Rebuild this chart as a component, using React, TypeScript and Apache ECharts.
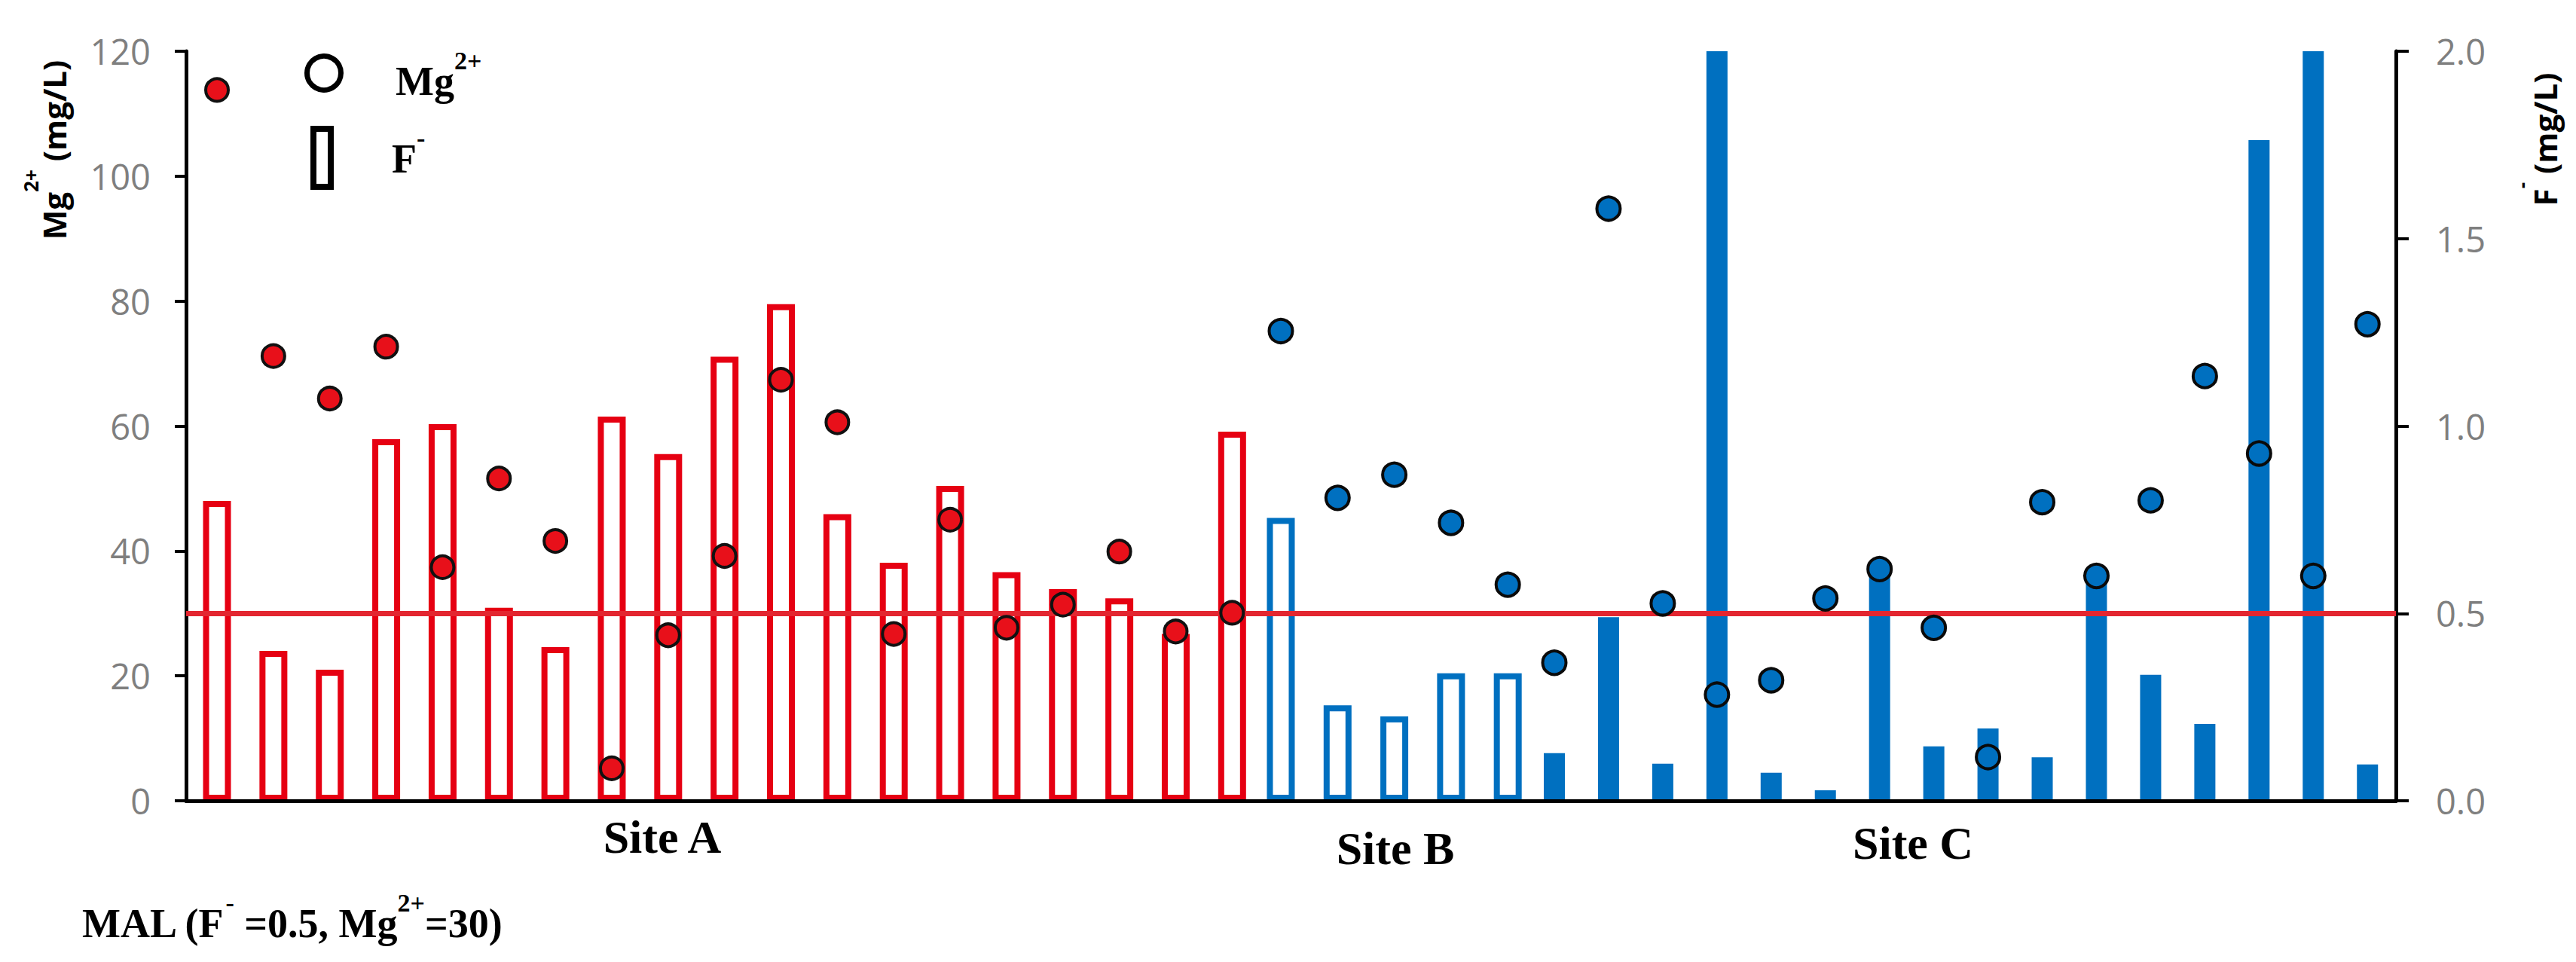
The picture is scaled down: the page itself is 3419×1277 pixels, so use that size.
import React, { useEffect, useRef } from "react";
import * as echarts from "echarts";

// ---- data ----
const siteAMg = [113.8, 71.2, 64.4, 72.7, 37.4, 51.6, 41.6, 5.2, 26.5, 39.2, 67.4, 60.6, 26.7, 45.0, 27.7, 31.4, 39.9, 27.1, 30.1];
const siteAF = [0.80, 0.40, 0.35, 0.965, 1.005, 0.515, 0.41, 1.025, 0.925, 1.185, 1.325, 0.765, 0.635, 0.84, 0.61, 0.565, 0.54, 0.445, 0.985];
const siteBMg = [75.2, 48.5, 52.2, 44.5, 34.6];
const siteBF = [0.755, 0.255, 0.225, 0.34, 0.34];
const siteCMg = [22.1, 94.8, 31.6, 17.0, 19.3, 32.4, 37.1, 27.7, 7.0, 47.8, 36.0, 48.1, 68.0, 55.6, 36.0, 76.3];
const siteCF = [0.127, 0.49, 0.099, 2.0, 0.075, 0.028, 0.6, 0.145, 0.193, 0.116, 0.6, 0.336, 0.205, 1.763, 2.0, 0.097];
const siteLabels = ["Site A", "Site B", "Site C"];
const MAL_F = 0.5;
const mgAxis = { min: 0, max: 120, interval: 20 };
const fAxis = { min: 0, max: 2, interval: 0.5 };

const RED = "#E60012";
const BLUE = "#0070C0";
const LINE_RED = "#E32630";
const SERIF = "Liberation Serif";
const SANS = "Open Sans";

const toPts = (arr: number[]) => arr.map((v, i) => [i + 1, v]);

export default function App() {
  const ref = useRef<HTMLDivElement>(null);
  useEffect(() => {
    if (!ref.current) return;
    const chart = echarts.init(ref.current, null, { renderer: "svg" });
    const labelStyle = { color: "#7f7f7f", fontSize: 47, fontFamily: SANS };
    const axisLineStyle = { color: "#000", width: 5 };
    const tickStyle = { color: "#000", width: 4 };
    const serifMain = (size: number, lh: number) => ({ fontFamily: SERIF, fontWeight: "bold", fontSize: size, lineHeight: lh, fill: "#000", verticalAlign: "bottom" });
    const serifSup = (size: number) => ({ fontFamily: SERIF, fontWeight: "bold", fontSize: size, lineHeight: size, fill: "#000", verticalAlign: "top" });
    const sansMain = { fontFamily: SANS, fontWeight: "bold", fontSize: 42, lineHeight: 64, fill: "#000", verticalAlign: "bottom" };
    const sansSup = { fontFamily: SANS, fontWeight: "bold", fontSize: 26, lineHeight: 26, fill: "#000", verticalAlign: "top" };

    const option: any = {
      animation: false,
      backgroundColor: "#fff",
      grid: { left: 247, top: 68, width: 2933, height: 995 },
      xAxis: [
        {
          type: "value", min: 0.452, max: 39.637, z: 5,
          axisLine: { show: true, onZero: false, lineStyle: { color: "#000", width: 5 } },
          axisTick: { show: false }, axisLabel: { show: false }, splitLine: { show: false },
        },
        { type: "value", min: -18.296, max: 20.655, show: false, axisLine: { onZero: false }, splitLine: { show: false } },
        { type: "value", min: -24.24, max: 16.525, show: false, axisLine: { onZero: false }, splitLine: { show: false } },
      ],
      yAxis: [
        {
          type: "value", position: "left", offset: 0, ...mgAxis,
          axisLine: { show: true, onZero: false, lineStyle: axisLineStyle },
          axisTick: { show: true, length: 15, lineStyle: tickStyle },
          axisLabel: { ...labelStyle, margin: 47 },
          splitLine: { show: false },
        },
        {
          type: "value", position: "right", offset: 0, ...fAxis,
          axisLine: { show: true, onZero: false, lineStyle: axisLineStyle },
          axisTick: { show: true, length: 17, lineStyle: tickStyle },
          axisLabel: { ...labelStyle, margin: 53, formatter: (v: number) => v.toFixed(1) },
          splitLine: { show: false },
        },
      ],
      series: [
        {
          name: "F- Site A", type: "bar", xAxisIndex: 0, yAxisIndex: 1, barWidth: 37, z: 2,
          data: toPts(siteAF),
          itemStyle: { color: "rgba(255,255,255,0)", borderColor: RED, borderWidth: 8 },
        },
        {
          name: "F- Site B", type: "bar", xAxisIndex: 1, yAxisIndex: 1, barWidth: 37, z: 2,
          data: toPts(siteBF),
          itemStyle: { color: "rgba(255,255,255,0)", borderColor: BLUE, borderWidth: 8 },
        },
        {
          name: "F- Site C", type: "bar", xAxisIndex: 2, yAxisIndex: 1, barWidth: 28, z: 2,
          data: toPts(siteCF),
          itemStyle: { color: BLUE },
          markLine: {
            silent: true, symbol: ["none", "none"], label: { show: false }, z: 5,
            lineStyle: { color: LINE_RED, width: 7, type: "solid" },
            data: [{ yAxis: MAL_F }],
          },
        },
        {
          name: "Mg Site A", type: "scatter", xAxisIndex: 0, yAxisIndex: 0, symbolSize: 30, z: 10,
          data: toPts(siteAMg),
          itemStyle: { color: "#E8101A", borderColor: "#111", borderWidth: 4, opacity: 1 },
        },
        {
          name: "Mg Site B", type: "scatter", xAxisIndex: 1, yAxisIndex: 0, symbolSize: 31, z: 10,
          data: toPts(siteBMg),
          itemStyle: { color: BLUE, borderColor: "#0a0a0a", borderWidth: 4, opacity: 1 },
        },
        {
          name: "Mg Site C", type: "scatter", xAxisIndex: 2, yAxisIndex: 0, symbolSize: 31, z: 10,
          data: toPts(siteCMg),
          itemStyle: { color: BLUE, borderColor: "#0a0a0a", borderWidth: 4, opacity: 1 },
        },
      ],
      graphic: [
        // legend
        { type: "circle", shape: { cx: 430, cy: 97, r: 22.5 }, style: { fill: "none", stroke: "#000", lineWidth: 7 }, z: 20 },
        { type: "rect", shape: { x: 416, y: 171, width: 23, height: 77 }, style: { fill: "none", stroke: "#000", lineWidth: 8 }, z: 20 },
        {
          type: "text", x: 525, y: 99, z: 20,
          style: { text: "{a|Mg}{b|2+}", align: "left", verticalAlign: "middle", rich: { a: serifMain(54, 72), b: serifSup(34) } },
        },
        {
          type: "text", x: 520, y: 202, z: 20,
          style: { text: "{a|F}{b|-}", align: "left", verticalAlign: "middle", rich: { a: serifMain(54, 72), b: serifSup(34) } },
        },
        // axis titles
        {
          type: "text", x: 60, y: 199, rotation: Math.PI / 2, z: 20,
          style: { text: "{a|Mg}{b|2+}{a| (mg/L)}", align: "center", verticalAlign: "middle", rich: { a: sansMain, b: sansSup } },
        },
        {
          type: "text", x: 3366, y: 185, rotation: Math.PI / 2, z: 20,
          style: { text: "{a|F}{b|-}{a| (mg/L)}", align: "center", verticalAlign: "middle", rich: { a: sansMain, b: sansSup } },
        },
        // site labels
        { type: "text", x: 879, y: 1111, z: 20, style: { text: siteLabels[0], align: "center", verticalAlign: "middle", fontFamily: SERIF, fontWeight: "bold", fontSize: 62, fill: "#000" } },
        { type: "text", x: 1852, y: 1126, z: 20, style: { text: siteLabels[1], align: "center", verticalAlign: "middle", fontFamily: SERIF, fontWeight: "bold", fontSize: 62, fill: "#000" } },
        { type: "text", x: 2539, y: 1119, z: 20, style: { text: siteLabels[2], align: "center", verticalAlign: "middle", fontFamily: SERIF, fontWeight: "bold", fontSize: 62, fill: "#000" } },
        // MAL note
        {
          type: "text", x: 109, y: 1217, z: 20,
          style: {
            text: "{a|MAL (F}{b|-}{a| =0.5, Mg}{b|2+}{a|=30)}",
            align: "left", verticalAlign: "middle",
            rich: { a: serifMain(54, 72), b: serifSup(34) },
          },
        },
      ],
    };
    chart.setOption(option);
    return () => chart.dispose();
  }, []);
  return (
    <div
      ref={ref}
      style={{ position: "fixed", left: 0, top: 0, width: 3419, height: 1277, background: "#fff" }}
    />
  );
}
